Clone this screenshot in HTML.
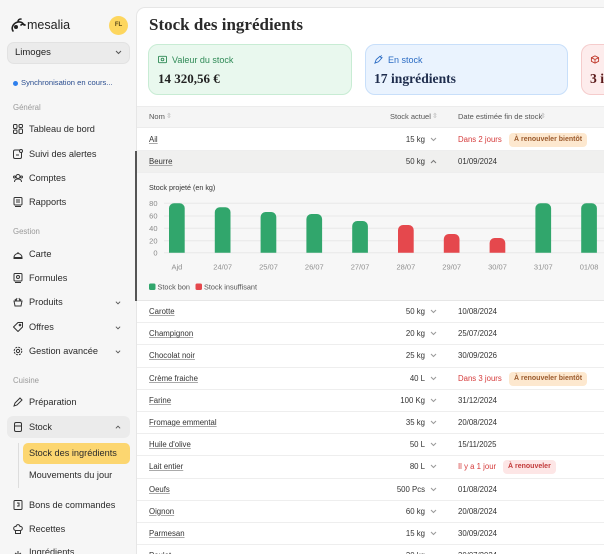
<!DOCTYPE html>
<html><head><meta charset="utf-8">
<style>
*{margin:0;padding:0;box-sizing:border-box}
html,body{width:604px;height:554px;overflow:hidden;background:#f6f6f6;font-family:"Liberation Sans",sans-serif;color:#2b2b2b}
#root{position:absolute;left:0;top:0;width:604px;height:554px;overflow:hidden}
.a{position:absolute;white-space:nowrap}
.nav{position:absolute;left:29px;font-size:9.2px;color:#2b2b2b;line-height:12px}
.ico{position:absolute;left:13px;width:10px;height:10px}
.sec{position:absolute;left:13px;font-size:7.8px;color:#9a9a9a;line-height:10px}
.chev{position:absolute;left:115px;width:6px;height:6px}
.row{position:absolute;left:137px;width:467px;height:22.2px;border-bottom:1px solid #eeeeee;background:#fff;overflow:hidden}
.nm{position:absolute;left:12px;top:5px;font-size:7.8px;color:#333;text-decoration:underline;text-decoration-color:#aaa;line-height:12px}
.st{position:absolute;right:179px;top:5px;font-size:7.8px;color:#333;line-height:12px;text-align:right}
.cv{position:absolute;left:293px;top:8px}
.dt{position:absolute;left:321px;top:5px;font-size:7.8px;color:#333;line-height:12px}
.red{color:#d63c3c}
.bdg{position:absolute;top:4px;height:14px;border-radius:4px;font-size:7px;line-height:14px;padding:0 5px;font-weight:600}
.bo{background:#fde8cf;color:#9b5a2c}
.br{background:#fde6e6;color:#c23a3a}
</style></head><body>
<div id="root">

<!-- Sidebar -->
<svg class="a" style="left:10px;top:17px" width="16" height="16" viewBox="0 0 16 16"><path d="M3 14c-2-3 0-8 5-9 3-.5 5 1 6 3M8 5c0-2 1-3 3-3M11 8c1-1 3-1 4 0" stroke="#222" stroke-width="1.6" fill="none" stroke-linecap="round"/><circle cx="6" cy="10" r="2" fill="#222"/></svg>
<div class="a" style="left:27px;top:17px;font-size:12.5px;color:#222;line-height:16px">mesalia</div>
<div class="a" style="left:109px;top:16px;width:19px;height:19px;border-radius:50%;background:#fdd65e;font-size:6px;font-weight:bold;color:#5a4a1a;text-align:center;line-height:19px">FL</div>

<div class="a" style="left:7px;top:42px;width:123px;height:22px;border-radius:7px;background:#ebebeb;border:1px solid #e2e2e2"></div>
<div class="a" style="left:15px;top:47px;font-size:9.5px;color:#222;line-height:12px">Limoges</div>
<svg class="a" style="left:115px;top:50px" width="7" height="5"><path d="M1 1l2.5 2.5L6 1" stroke="#555" fill="none" stroke-width="1"/></svg>

<div class="a" style="left:13px;top:81px;width:5px;height:5px;border-radius:50%;background:#2f80ed"></div>
<div class="a" style="left:21px;top:78px;font-size:7.6px;color:#2a4d8f;line-height:10px">Synchronisation en cours...</div>

<div class="sec" style="top:103px">Général</div>
<svg class="ico" style="top:124px" viewBox="0 0 10 10"><g fill="none" stroke="#333" stroke-width="1"><rect x="0.5" y="0.5" width="3.5" height="4" rx="1"/><rect x="6" y="0.5" width="3.5" height="3" rx="1"/><rect x="0.5" y="6" width="3.5" height="3.5" rx="1"/><rect x="6" y="5" width="3.5" height="4.5" rx="1"/></g></svg>
<div class="nav" style="top:123px">Tableau de bord</div>
<svg class="ico" style="top:149px" viewBox="0 0 10 10"><g fill="none" stroke="#333" stroke-width="1"><rect x="0.5" y="1" width="8" height="8.5" rx="1.5"/><circle cx="8" cy="2" r="1.5" fill="#fff"/><path d="M3 6h3"/></g></svg>
<div class="nav" style="top:148px">Suivi des alertes</div>
<svg class="ico" style="top:173px" viewBox="0 0 10 10"><g fill="none" stroke="#333" stroke-width="1"><circle cx="5" cy="3.5" r="2"/><path d="M1.5 9c0-2 1.5-3 3.5-3s3.5 1 3.5 3"/><circle cx="1.5" cy="4" r="1"/><circle cx="8.5" cy="4" r="1"/></g></svg>
<div class="nav" style="top:172px">Comptes</div>
<svg class="ico" style="top:197px" viewBox="0 0 10 10"><g fill="none" stroke="#333" stroke-width="1"><rect x="1" y="0.5" width="8" height="7.5" rx="1"/><path d="M3 3h4M3 5h4M2 9.5h6"/></g></svg>
<div class="nav" style="top:196px">Rapports</div>

<div class="sec" style="top:227px">Gestion</div>
<svg class="ico" style="top:249px" viewBox="0 0 10 10"><g fill="none" stroke="#333" stroke-width="1"><path d="M1 8.5a4 4 0 0 1 8 0zM0.5 9.5h9M5 3v1.5"/></g></svg>
<div class="nav" style="top:248px">Carte</div>
<svg class="ico" style="top:273px" viewBox="0 0 10 10"><g fill="none" stroke="#333" stroke-width="1"><rect x="1" y="0.5" width="8" height="7.5" rx="1"/><circle cx="5" cy="4" r="1.5"/><path d="M2 9.5h6"/></g></svg>
<div class="nav" style="top:272px">Formules</div>
<svg class="ico" style="top:297px" viewBox="0 0 10 10"><g fill="none" stroke="#333" stroke-width="1"><path d="M1 4h8l-1 5H2zM3 4l1-3M7 4L6 1M2 2l1 2M8 2L7 4"/></g></svg>
<div class="nav" style="top:296px">Produits</div>
<svg class="chev" style="top:300px" viewBox="0 0 7 5"><path d="M1 1l2.5 2.5L6 1" stroke="#555" fill="none"/></svg>
<svg class="ico" style="top:322px" viewBox="0 0 10 10"><g fill="none" stroke="#333" stroke-width="1"><path d="M5 0.5h4.5V5L5 9.5.5 5z"/><circle cx="7" cy="3" r=".8"/></g></svg>
<div class="nav" style="top:321px">Offres</div>
<svg class="chev" style="top:325px" viewBox="0 0 7 5"><path d="M1 1l2.5 2.5L6 1" stroke="#555" fill="none"/></svg>
<svg class="ico" style="top:346px" viewBox="0 0 10 10"><g fill="none" stroke="#333" stroke-width="1"><circle cx="5" cy="5" r="1.6"/><circle cx="5" cy="5" r="3.8" stroke-dasharray="2 1"/></g></svg>
<div class="nav" style="top:345px">Gestion avancée</div>
<svg class="chev" style="top:349px" viewBox="0 0 7 5"><path d="M1 1l2.5 2.5L6 1" stroke="#555" fill="none"/></svg>

<div class="sec" style="top:376px">Cuisine</div>
<svg class="ico" style="top:397px" viewBox="0 0 10 10"><g fill="none" stroke="#333" stroke-width="1"><path d="M1 9l1-3 5-5 2 2-5 5z"/></g></svg>
<div class="nav" style="top:396px">Préparation</div>
<div class="a" style="left:7px;top:416px;width:123px;height:22px;border-radius:6px;background:#ebebeb"></div>
<svg class="ico" style="top:422px" viewBox="0 0 10 10"><g fill="none" stroke="#333" stroke-width="1"><rect x="1.5" y="0.5" width="7" height="9" rx="1.5"/><path d="M1.5 4h7"/></g></svg>
<div class="nav" style="top:421px">Stock</div>
<svg class="chev" style="top:424px" viewBox="0 0 7 5"><path d="M1 4l2.5-2.5L6 4" stroke="#555" fill="none"/></svg>
<div class="a" style="left:18px;top:443px;width:1px;height:45px;background:#dddddd"></div>
<div class="a" style="left:23px;top:443px;width:107px;height:21px;border-radius:5px;background:#fcd670"></div>
<div class="nav" style="left:29px;top:447px">Stock des ingrédients</div>
<div class="nav" style="left:29px;top:469px">Mouvements du jour</div>
<svg class="ico" style="top:500px" viewBox="0 0 10 10"><g fill="none" stroke="#333" stroke-width="1"><rect x="1" y="0.5" width="8" height="9" rx="1"/><path d="M4 3h2v3H4"/></g></svg>
<div class="nav" style="top:499px">Bons de commandes</div>
<svg class="ico" style="top:524px" viewBox="0 0 10 10"><g fill="none" stroke="#333" stroke-width="1"><path d="M2.5 6.5C0 6 0 2 3 2.5 3.5 0 6.5 0 7 2.5c3-.5 3 3.5.5 4zM2.5 6.5v3h5v-3"/></g></svg>
<div class="nav" style="top:523px">Recettes</div>
<svg class="ico" style="top:548px" viewBox="0 0 10 6"><g fill="none" stroke="#333" stroke-width="1"><path d="M5 1v5M2 3l3 2 3-2"/></g></svg>
<div class="nav" style="top:546px;height:8px;overflow:hidden">Ingrédients</div>

<!-- Main panel -->
<div class="a" style="left:136px;top:7px;width:468px;height:547px;background:#fff;border:1px solid #e6e6e6;border-right:none;border-bottom:none;border-radius:9px 0 0 0"></div>
<div class="a" style="left:149px;top:14px;font-family:'Liberation Serif',serif;font-weight:bold;font-size:17px;color:#2a2a2a;line-height:22px">Stock des ingrédients</div>

<!-- stat cards -->
<div class="a" style="left:148px;top:44px;width:204px;height:51px;border-radius:10px;background:#e9f8ee;border:1px solid #c8ecd4"></div>
<svg class="a" style="left:158px;top:55px" width="9" height="9" viewBox="0 0 10 10"><g fill="none" stroke="#2f8a56" stroke-width="1"><rect x=".5" y="1.5" width="9" height="7" rx="1"/><circle cx="5" cy="5" r="1.5"/></g></svg>
<div class="a" style="left:172px;top:54px;font-size:9px;color:#2f8a56;line-height:12px">Valeur du stock</div>
<div class="a" style="left:158px;top:71px;font-family:'Liberation Serif',serif;font-weight:bold;font-size:13px;color:#222;line-height:16px">14 320,56 €</div>

<div class="a" style="left:365px;top:44px;width:203px;height:51px;border-radius:10px;background:#eaf3fe;border:1px solid #c8dffa"></div>
<svg class="a" style="left:374px;top:55px" width="9" height="9" viewBox="0 0 10 10"><g fill="none" stroke="#2b6cc4" stroke-width="1"><path d="M1 9l1.5-4 4-3.5 2 2L5 7.5zM7 2l1.5-1.5M8 3l1.5-.5"/></g></svg>
<div class="a" style="left:388px;top:54px;font-size:9px;color:#2b6cc4;line-height:12px">En stock</div>
<div class="a" style="left:374px;top:71px;font-family:'Liberation Serif',serif;font-weight:bold;font-size:13.6px;color:#1f2d4d;line-height:16px">17 ingrédients</div>

<div class="a" style="left:581px;top:44px;width:23px;height:51px;border-radius:10px 0 0 10px;background:#fdecec;border:1px solid #f5cccc;border-right:none;overflow:hidden">
<svg style="position:absolute;left:8px;top:10px" width="10" height="9" viewBox="0 0 10 10"><g fill="none" stroke="#c0392b" stroke-width="1"><path d="M1 3l4-2 4 2v4L5 9 1 7zM1 3l4 2 4-2M5 5v4"/></g></svg>
<div style="position:absolute;left:8px;top:26px;font-family:'Liberation Serif',serif;font-weight:bold;font-size:13.6px;color:#5a1a1a;line-height:16px;white-space:nowrap">3 ingrédients</div>
</div>

<!-- table header -->
<div class="a" style="left:137px;top:106px;width:467px;height:22px;background:#f5f5f5;border-top:1px solid #ececec;border-bottom:1px solid #ececec"></div>
<div class="a" style="left:149px;top:112px;font-size:7.5px;color:#555;line-height:10px">Nom</div>
<div class="a" style="left:166px;top:112px;font-size:7px;color:#aaa;line-height:10px">⇳</div>
<div class="a" style="left:390px;top:112px;font-size:7.5px;color:#555;line-height:10px">Stock actuel</div>
<div class="a" style="left:432px;top:112px;font-size:7px;color:#aaa;line-height:10px">⇳</div>
<div class="a" style="left:458px;top:112px;font-size:7.5px;color:#555;line-height:10px">Date estimée fin de stock</div>
<div class="a" style="left:540px;top:112px;font-size:7px;color:#aaa;line-height:10px">⇳</div>

<!-- Ail -->
<div class="row" style="top:129px"><div class="nm">Ail</div><div class="st">15 kg</div><svg class="cv" width="7" height="5"><path d="M1 1l2.5 2.5L6 1" stroke="#999" fill="none"/></svg><div class="dt red">Dans 2 jours</div><div class="bdg bo" style="left:372px">À renouveler bientôt</div></div>
<!-- Beurre -->
<div class="row" style="top:151px;background:#f0f0ef"><div class="nm">Beurre</div><div class="st">50 kg</div><svg class="cv" width="7" height="5"><path d="M1 4l2.5-2.5L6 4" stroke="#777" fill="none"/></svg><div class="dt">01/09/2024</div></div>

<!-- chart panel -->
<div class="a" style="left:137px;top:173px;width:467px;height:128px;background:#f7f7f7;border-bottom:1px solid #e6e6e6"></div>
<div class="a" style="left:135px;top:151px;width:2px;height:150px;background:#555"></div>
<svg class="a" style="left:137px;top:173px" width="467" height="128" viewBox="137 173 467 128" font-family="Liberation Sans, sans-serif">
<text x="149" y="190" font-size="7.2" fill="#333">Stock projeté (en kg)</text>
<g stroke="#e8e8e8" stroke-width="1">
<line x1="164" x2="604" y1="203.3" y2="203.3"/>
<line x1="164" x2="604" y1="216" y2="216"/>
<line x1="164" x2="604" y1="228.3" y2="228.3"/>
<line x1="164" x2="604" y1="240.7" y2="240.7"/>
<line x1="164" x2="604" y1="252.7" y2="252.7"/>
</g>
<g font-size="7.5" fill="#8a8a8a" text-anchor="end">
<text x="157.5" y="206">80</text>
<text x="157.5" y="218.7">60</text>
<text x="157.5" y="231">40</text>
<text x="157.5" y="243.4">20</text>
<text x="157.5" y="255.4">0</text>
</g>
<g>
<path d="M169 252.7V208.3a5 5 0 0 1 5-5h5.7a5 5 0 0 1 5 5V252.7z" fill="#31a66c"/>
<path d="M214.8 252.7V212.3a5 5 0 0 1 5-5h5.7a5 5 0 0 1 5 5V252.7z" fill="#31a66c"/>
<path d="M260.6 252.7V217a5 5 0 0 1 5-5h5.7a5 5 0 0 1 5 5V252.7z" fill="#31a66c"/>
<path d="M306.4 252.7V219a5 5 0 0 1 5-5h5.7a5 5 0 0 1 5 5V252.7z" fill="#31a66c"/>
<path d="M352.2 252.7V226a5 5 0 0 1 5-5h5.7a5 5 0 0 1 5 5V252.7z" fill="#31a66c"/>
<path d="M398 252.7V230a5 5 0 0 1 5-5h5.7a5 5 0 0 1 5 5V252.7z" fill="#e5484d"/>
<path d="M443.8 252.7V239a5 5 0 0 1 5-5h5.7a5 5 0 0 1 5 5V252.7z" fill="#e5484d"/>
<path d="M489.6 252.7V243a5 5 0 0 1 5-5h5.7a5 5 0 0 1 5 5V252.7z" fill="#e5484d"/>
<path d="M535.4 252.7V208.3a5 5 0 0 1 5-5h5.7a5 5 0 0 1 5 5V252.7z" fill="#31a66c"/>
<path d="M581.2 252.7V208.3a5 5 0 0 1 5-5h5.7a5 5 0 0 1 5 5V252.7z" fill="#31a66c"/>
</g>
<g font-size="7.5" fill="#8f8f8f" text-anchor="middle">
<text x="176.9" y="269.4">Ajd</text>
<text x="222.7" y="269.4">24/07</text>
<text x="268.5" y="269.4">25/07</text>
<text x="314.3" y="269.4">26/07</text>
<text x="360.1" y="269.4">27/07</text>
<text x="405.9" y="269.4">28/07</text>
<text x="451.7" y="269.4">29/07</text>
<text x="497.5" y="269.4">30/07</text>
<text x="543.3" y="269.4">31/07</text>
<text x="589.1" y="269.4">01/08</text>
</g>
<rect x="149" y="283.5" width="6.5" height="6.5" rx="1.5" fill="#31a66c"/>
<text x="157.5" y="289.5" font-size="7.3" fill="#555">Stock bon</text>
<rect x="195.5" y="283.5" width="6.5" height="6.5" rx="1.5" fill="#e5484d"/>
<text x="204" y="289.5" font-size="7.3" fill="#555">Stock insuffisant</text>
</svg>

<!-- rows -->
<div class="row" style="top:301px"><div class="nm">Carotte</div><div class="st">50 kg</div><svg class="cv" width="7" height="5"><path d="M1 1l2.5 2.5L6 1" stroke="#999" fill="none"/></svg><div class="dt">10/08/2024</div></div>
<div class="row" style="top:323.2px"><div class="nm">Champignon</div><div class="st">20 kg</div><svg class="cv" width="7" height="5"><path d="M1 1l2.5 2.5L6 1" stroke="#999" fill="none"/></svg><div class="dt">25/07/2024</div></div>
<div class="row" style="top:345.4px"><div class="nm">Chocolat noir</div><div class="st">25 kg</div><svg class="cv" width="7" height="5"><path d="M1 1l2.5 2.5L6 1" stroke="#999" fill="none"/></svg><div class="dt">30/09/2026</div></div>
<div class="row" style="top:367.6px"><div class="nm">Crème fraiche</div><div class="st">40 L</div><svg class="cv" width="7" height="5"><path d="M1 1l2.5 2.5L6 1" stroke="#999" fill="none"/></svg><div class="dt red">Dans 3 jours</div><div class="bdg bo" style="left:372px">À renouveler bientôt</div></div>
<div class="row" style="top:389.8px"><div class="nm">Farine</div><div class="st">100 Kg</div><svg class="cv" width="7" height="5"><path d="M1 1l2.5 2.5L6 1" stroke="#999" fill="none"/></svg><div class="dt">31/12/2024</div></div>
<div class="row" style="top:412px"><div class="nm">Fromage emmental</div><div class="st">35 kg</div><svg class="cv" width="7" height="5"><path d="M1 1l2.5 2.5L6 1" stroke="#999" fill="none"/></svg><div class="dt">20/08/2024</div></div>
<div class="row" style="top:434.2px"><div class="nm">Huile d'olive</div><div class="st">50 L</div><svg class="cv" width="7" height="5"><path d="M1 1l2.5 2.5L6 1" stroke="#999" fill="none"/></svg><div class="dt">15/11/2025</div></div>
<div class="row" style="top:456.4px"><div class="nm">Lait entier</div><div class="st">80 L</div><svg class="cv" width="7" height="5"><path d="M1 1l2.5 2.5L6 1" stroke="#999" fill="none"/></svg><div class="dt red">Il y a 1 jour</div><div class="bdg br" style="left:366px">À renouveler</div></div>
<div class="row" style="top:478.6px"><div class="nm">Oeufs</div><div class="st">500 Pcs</div><svg class="cv" width="7" height="5"><path d="M1 1l2.5 2.5L6 1" stroke="#999" fill="none"/></svg><div class="dt">01/08/2024</div></div>
<div class="row" style="top:500.8px"><div class="nm">Oignon</div><div class="st">60 kg</div><svg class="cv" width="7" height="5"><path d="M1 1l2.5 2.5L6 1" stroke="#999" fill="none"/></svg><div class="dt">20/08/2024</div></div>
<div class="row" style="top:523px"><div class="nm">Parmesan</div><div class="st">15 kg</div><svg class="cv" width="7" height="5"><path d="M1 1l2.5 2.5L6 1" stroke="#999" fill="none"/></svg><div class="dt">30/09/2024</div></div>
<div class="row" style="top:545.2px;height:8.8px;border-bottom:none"><div class="nm">Poulet</div><div class="st">30 kg</div><div class="dt">30/07/2024</div></div>

</div>
</body></html>
